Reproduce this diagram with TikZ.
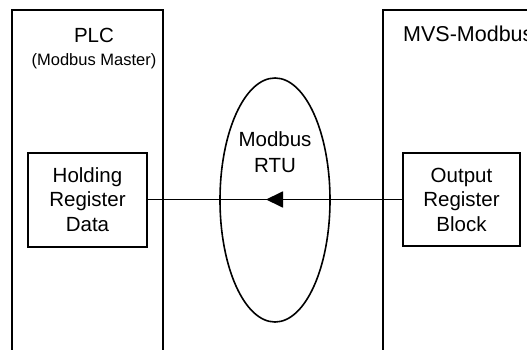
\documentclass[tikz,border=0pt]{standalone}
\usepackage{fontspec}
\setmainfont{Liberation Sans}
\usetikzlibrary{shapes.geometric,arrows.meta}
\begin{document}
\begin{tikzpicture}[x=1pt,y=-1pt,
    panel/.style={draw,line width=2pt,rectangle,inner sep=0pt},
    regbox/.style={draw,line width=2pt,rectangle,align=center,inner sep=0pt,
        font=\fontsize{20.5}{24.5}\selectfont},
    big/.style={font=\fontsize{20.5}{24}\selectfont,anchor=base,inner sep=0pt},
    small/.style={font=\fontsize{16.5}{18}\selectfont,anchor=base,inner sep=0pt}]
    \useasboundingbox (0,0) rectangle (527,350);
    % the two devices, open at the bottom
    \node[panel,minimum width=151pt,minimum height=380pt] (plc) at (87.5,200) {};
    \node[panel,minimum width=200pt,minimum height=380pt] (mvs) at (483,200) {};
    \node[big] (plcname) at (94,43) {PLC};
    \node[small] (plcrole) at (94,66) {(Modbus Master)};
    \node[big,anchor=base west,font=\fontsize{21.5}{24}\selectfont] (mvsname) at (403,42) {MVS-Modbus};
    % the bus
    \node[draw,line width=1.6pt,ellipse,minimum width=110pt,minimum height=244pt,inner sep=0pt] (bus) at (275,200) {};
    \node[regbox,draw=none,font=\fontsize{20.5}{26}\selectfont] (busname) at (275,152) {Modbus\\RTU};
    % register blocks
    \node[regbox,minimum width=119pt,minimum height=94pt] (hold) at (87.5,199.5) {Holding\\Register\\Data};
    \node[regbox,minimum width=117pt,minimum height=93pt] (out) at (461.5,199.5) {Output\\Register\\Block};
    \coordinate (tip) at (266,199.5);
    \draw[line width=1.8pt] (out.west) -- (hold.east);
    \draw[line width=1.8pt,-{Triangle[length=17pt,width=16pt]}] (out.west) -- (tip);
\end{tikzpicture}
\end{document}
